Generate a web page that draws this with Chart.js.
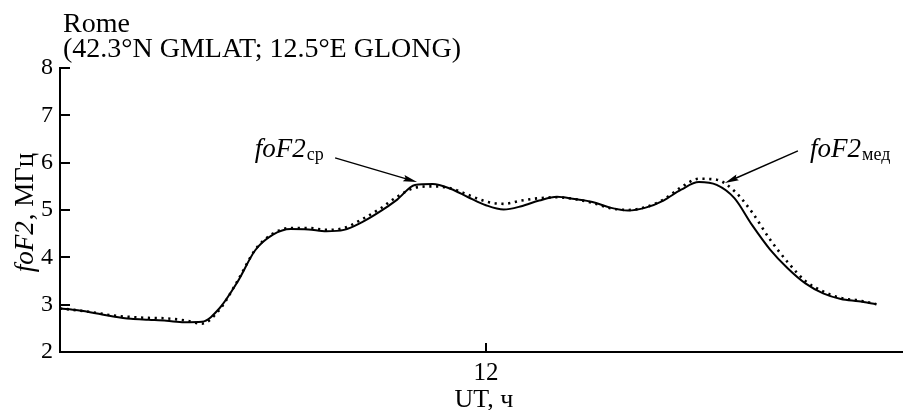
<!DOCTYPE html>
<html><head><meta charset="utf-8">
<script src="https://cdn.jsdelivr.net/npm/chart.js@4"></script>
<style>html,body{margin:0;padding:0;background:#fff;overflow:hidden}</style>
</head><body>
<canvas id="c" width="903" height="410" style="width:903px;height:410px;display:block"></canvas>
<script>
// ---- data ----
const hoursUT = [0,0.5,1,1.5,2,2.5,3,3.5,4,4.5,5,5.5,6,6.5,7,7.5,8,8.5,9,9.5,10,10.5,11,11.5,12,12.5,13,13.5,14,14.5,15,15.5,16,16.5,17,17.5,18,18.5,19,19.5,20,20.5,21,21.5,22,22.5,23];
const foF2Mean = [2.92,2.88,2.82,2.75,2.70,2.68,2.66,2.63,2.64,2.93,3.48,4.15,4.48,4.60,4.59,4.55,4.58,4.74,4.96,5.22,5.53,5.55,5.45,5.27,5.10,5.01,5.08,5.20,5.28,5.23,5.17,5.05,4.99,5.05,5.20,5.43,5.59,5.53,5.25,4.68,4.17,3.77,3.45,3.24,3.12,3.07,3.01];
const foF2Median = [2.92,2.88,2.83,2.77,2.74,2.72,2.71,2.67,2.60,2.90,3.50,4.16,4.50,4.62,4.62,4.58,4.62,4.80,5.02,5.28,5.47,5.50,5.46,5.32,5.18,5.13,5.20,5.25,5.27,5.23,5.15,5.04,5.00,5.06,5.22,5.48,5.66,5.64,5.40,4.95,4.38,3.90,3.50,3.28,3.14,3.09,3.01];
const yTickValues = [2,3,4,5,6,7,8];
const xTickValues = [12];
const titleLines = ['Rome','(42.3°N GMLAT; 12.5°E GLONG)'];
const xAxisTitle = 'UT, ч';
const yAxisTitleItalic = 'foF2';
const yAxisTitleRest = ', МГц';
// annotations in data units: label baseline start, arrow start, arrow tip
const annotMean = {sub:'ср', lx:5.49, ly:6.12, sx:7.75, sy:6.10, tx:10.06, ty:5.59};
const annotMedian = {sub:'мед', lx:21.13, ly:6.12, sx:20.79, sy:6.25, tx:18.73, ty:5.57};

const SERIF = '"Liberation Serif","Times New Roman",serif';

function arrow(ctx, x1, y1, x2, y2) {
  const ang = Math.atan2(y2 - y1, x2 - x1);
  const L = 14, W = 3.2;
  ctx.beginPath();
  ctx.moveTo(x1, y1);
  ctx.lineTo(x2 - L * 0.8 * Math.cos(ang), y2 - L * 0.8 * Math.sin(ang));
  ctx.lineWidth = 1.4; ctx.strokeStyle = '#000'; ctx.stroke();
  ctx.beginPath();
  ctx.moveTo(x2, y2);
  ctx.lineTo(x2 - L * Math.cos(ang) + W * Math.sin(ang), y2 - L * Math.sin(ang) - W * Math.cos(ang));
  ctx.lineTo(x2 - L * 0.85 * Math.cos(ang), y2 - L * 0.85 * Math.sin(ang));
  ctx.lineTo(x2 - L * Math.cos(ang) - W * Math.sin(ang), y2 - L * Math.sin(ang) + W * Math.cos(ang));
  ctx.closePath(); ctx.fillStyle = '#000'; ctx.fill();
}

const overlay = {
  id: 'overlay',
  afterDraw(chart) {
    const {ctx, scales: {x, y}, chartArea: ca} = chart;
    ctx.save();
    ctx.strokeStyle = '#000'; ctx.lineWidth = 2; ctx.fillStyle = '#000';
    // inward ticks
    yTickValues.forEach(v => {
      const py = Math.round(y.getPixelForValue(v));
      ctx.beginPath(); ctx.moveTo(ca.left, py); ctx.lineTo(ca.left + 10, py); ctx.stroke();
    });
    ctx.font = '25px ' + SERIF;
    ctx.textAlign = 'center'; ctx.textBaseline = 'alphabetic';
    xTickValues.forEach(v => {
      const px = Math.round(x.getPixelForValue(v));
      ctx.beginPath(); ctx.moveTo(px, ca.bottom); ctx.lineTo(px, ca.bottom - 9); ctx.stroke();
      ctx.fillText(String(v), px, 380);
    });
    ctx.font = '26px ' + SERIF;
    ctx.fillText(xAxisTitle, x.getPixelForValue(12) - 2, 407);
    // title
    ctx.font = '28px ' + SERIF;
    ctx.textAlign = 'left';
    ctx.fillText(titleLines[0], 63, 32);
    ctx.fillText(titleLines[1], 63, 57);
    // y axis title rotated
    ctx.save();
    ctx.translate(33, 213); ctx.rotate(-Math.PI / 2);
    ctx.font = 'italic 27px ' + SERIF;
    const w1 = ctx.measureText(yAxisTitleItalic).width;
    ctx.font = '27px ' + SERIF;
    const w2 = ctx.measureText(yAxisTitleRest).width;
    const x0 = -(w1 + w2) / 2;
    ctx.font = 'italic 27px ' + SERIF;
    ctx.fillText(yAxisTitleItalic, x0, 0);
    ctx.font = '27px ' + SERIF;
    ctx.fillText(yAxisTitleRest, x0 + w1 + 1, 0);
    ctx.restore();
    // annotations
    [annotMean, annotMedian].forEach(a => {
      const lx = x.getPixelForValue(a.lx), ly = y.getPixelForValue(a.ly);
      ctx.font = 'italic 27px ' + SERIF;
      ctx.fillText('foF2', lx, ly);
      const w = ctx.measureText('foF2').width;
      ctx.font = '18px ' + SERIF;
      ctx.fillText(a.sub, lx + w + 1, ly + 3);
      arrow(ctx, x.getPixelForValue(a.sx), y.getPixelForValue(a.sy), x.getPixelForValue(a.tx), y.getPixelForValue(a.ty));
    });
    ctx.restore();
  }
};

new Chart(document.getElementById('c'), {
  type: 'line',
  data: {
    datasets: [
      { label: 'foF2 ср', data: hoursUT.map((h, i) => ({x: h, y: foF2Mean[i]})),
        borderColor: '#000', borderWidth: 2, pointRadius: 0, cubicInterpolationMode: 'monotone', fill: false },
      { label: 'foF2 мед', data: hoursUT.map((h, i) => ({x: h, y: foF2Median[i]})),
        borderColor: '#000', borderWidth: 2.6, borderDash: [2.2, 4.6], pointRadius: 0, cubicInterpolationMode: 'monotone', fill: false }
    ]
  },
  options: {
    responsive: false, animation: false, devicePixelRatio: 1,
    layout: { padding: { top: 68, right: 0, left: 0, bottom: 0 } },
    plugins: { legend: { display: false }, tooltip: { enabled: false } },
    scales: {
      x: {
        type: 'linear', min: 0, max: 23.75,
        afterBuildTicks: s => { s.ticks = xTickValues.map(v => ({value: v})); },
        afterFit: s => { s.height = 58; },
        grid: { display: false, drawTicks: false },
        border: { display: true, color: '#000', width: 2 },
        ticks: { display: false }
      },
      y: {
        min: 2, max: 8,
        afterBuildTicks: s => { s.ticks = yTickValues.map(v => ({value: v})); },
        afterFit: s => { s.width = 60; },
        grid: { display: false, drawTicks: false },
        border: { display: true, color: '#000', width: 2 },
        ticks: { color: '#000', font: { family: SERIF, size: 24 }, padding: 7 }
      }
    }
  },
  plugins: [overlay]
});
</script>
</body></html>
